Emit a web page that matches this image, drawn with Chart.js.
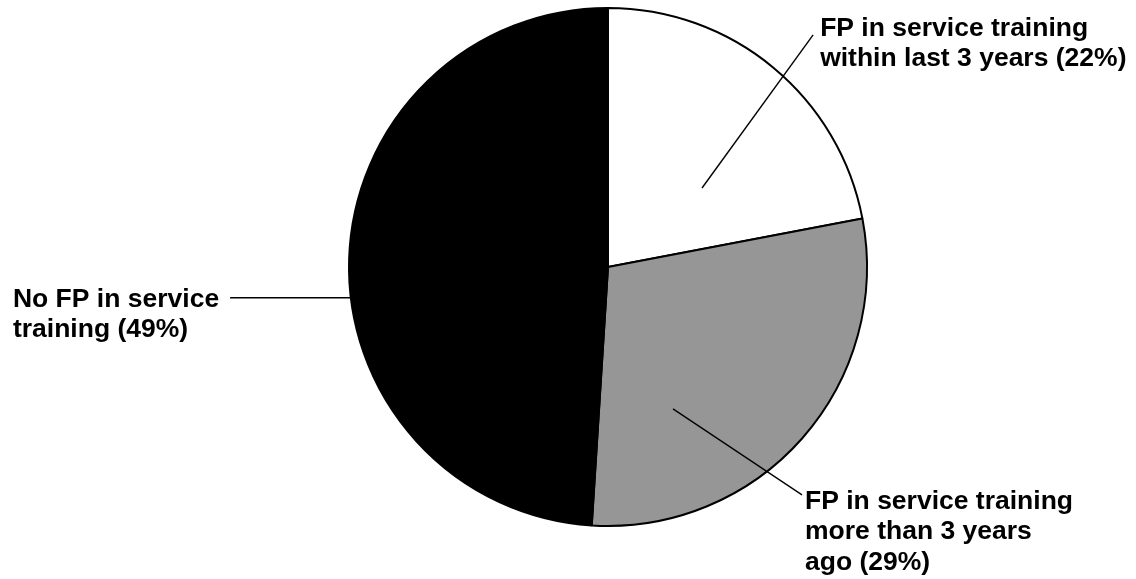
<!DOCTYPE html>
<html>
<head>
<meta charset="utf-8">
<script src="https://cdn.jsdelivr.net/npm/chart.js@4/dist/chart.umd.min.js"></script>
<style>
html,body{margin:0;padding:0;background:#fff;}
#wrap{width:1136px;height:579px;position:relative;}
</style>
</head>
<body>
<div id="wrap"><canvas id="c"></canvas></div>
<script>
// ---- data ----
const categories = [
  "FP in service training within last 3 years",
  "FP in service training more than 3 years ago",
  "No FP in service training"
];
const shares = [22, 29, 49];
const labelLines = [
  ["FP in service training", "within last 3 years (22%)"],
  ["FP in service training", "more than 3 years", "ago (29%)"],
  ["No FP in service", "training (49%)"]
];
const sliceColors = ["#ffffff", "#969696", "#000000"];

// ---- label layout (fractions of the pie radius, relative to pie centre) ----
const leaderLayout = [
  {inner: [0.363, -0.305], outer: [0.792, -0.896], text: {dx: 7, dy: 1, align: "left"}},
  {inner: [0.251, 0.548], outer: [0.749, 0.880], text: {dx: 3, dy: 14, align: "left"}},
  {inner: [-0.996, 0.119], outer: [-1.459, 0.119], text: {dx: -11, dy: 9, align: "rightFirst"}}
];
const FONT = "bold 26.5px 'Liberation Sans', Arial, sans-serif";
const LINE_H = 30.5;

const labelPlugin = {
  id: "leaderLabels",
  afterDatasetsDraw(chart) {
    const ctx = chart.ctx;
    const meta = chart.getDatasetMeta(0);
    ctx.save();
    ctx.font = FONT;
    ctx.fillStyle = "#000";
    ctx.strokeStyle = "#000";
    ctx.lineWidth = 1.4;
    ctx.textBaseline = "alphabetic";
    meta.data.forEach((arc, i) => {
      const cx = arc.x, cy = arc.y, R = arc.outerRadius;
      const L = leaderLayout[i];
      const x1 = cx + L.inner[0] * R, y1 = cy + L.inner[1] * R;
      const x2 = cx + L.outer[0] * R, y2 = cy + L.outer[1] * R;
      ctx.beginPath();
      ctx.moveTo(x1, y1);
      ctx.lineTo(x2, y2);
      ctx.stroke();
      const lines = labelLines[i];
      let tx;
      if (L.text.align === "rightFirst") {
        tx = x2 + L.text.dx - ctx.measureText(lines[0]).width;
      } else {
        tx = x2 + L.text.dx;
      }
      ctx.textAlign = "left";
      lines.forEach((s, k) => {
        ctx.fillText(s, tx, y2 + L.text.dy + k * LINE_H);
      });
    });
    ctx.restore();
  }
};

new Chart(document.getElementById("c"), {
  type: "pie",
  data: {
    labels: categories,
    datasets: [{
      data: shares,
      backgroundColor: sliceColors,
      borderColor: "#000000",
      borderWidth: 2
    }]
  },
  options: {
    responsive: true,
    maintainAspectRatio: false,
    animation: false,
    layout: {padding: {top: 7, bottom: 52, left: 80, right: 0}},
    plugins: {legend: {display: false}, tooltip: {enabled: false}}
  },
  plugins: [labelPlugin]
});
</script>
</body>
</html>
